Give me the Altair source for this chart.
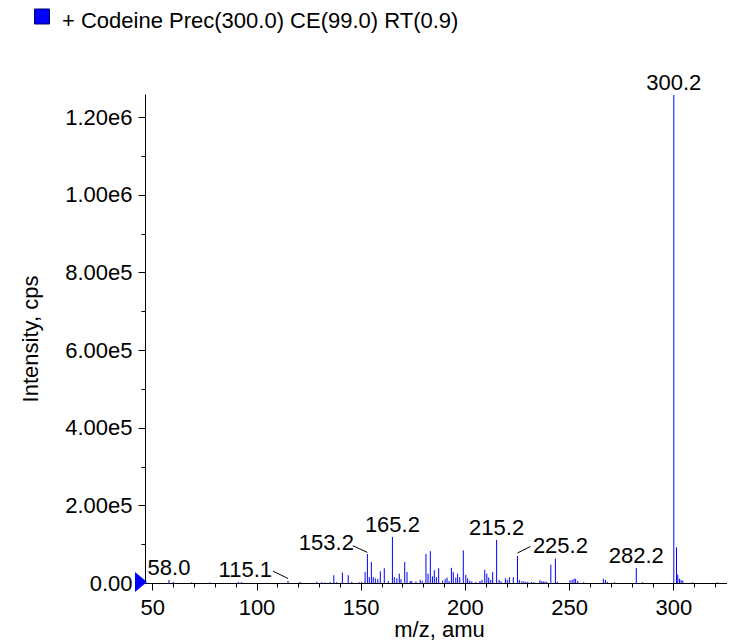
import altair as alt
import pandas as pd

# ---- spectrum data (m/z, intensity in cps) ----
series_name = "+ Codeine Prec(300.0) CE(99.0) RT(0.9)"

mz = [58.0, 60.1, 68.9, 77.7, 91.3, 92.9, 115.1, 120.9, 128.9, 131.3, 132.9, 135.3,
      137.1, 138.5, 141.2, 144.0, 145.7, 149.2, 150.5, 152.1, 153.2, 154.1, 155.1,
      156.0, 157.0, 158.2, 159.4, 161.3, 163.2, 165.2, 166.1, 167.3, 168.5, 169.3,
      171.1, 172.2, 173.7, 174.5, 176.5, 178.5, 179.5, 181.3, 182.3, 183.4, 184.4,
      185.3, 186.3, 187.4, 189.3, 190.5, 191.4, 192.4, 193.5, 194.4, 195.6, 196.5,
      197.5, 199.2, 200.4, 201.3, 202.3, 203.3, 205.2, 207.2, 208.2, 209.5, 210.5,
      211.4, 212.4, 213.3, 215.2, 216.4, 217.3, 219.4, 220.3, 221.3, 223.2, 225.2,
      226.1, 227.3, 228.3, 229.2, 230.2, 232.0, 233.1, 236.0, 236.8, 237.6, 238.4,
      239.2, 241.2, 243.4, 244.3, 250.4, 251.4, 252.3, 253.1, 254.1, 257.0, 266.4,
      267.4, 268.3, 271.8, 282.2, 285.3, 300.2, 301.5, 302.1, 302.9, 303.7, 304.5,
      309.3, 321.0]
intensity = [8000, 2500, 2000, 1500, 3000, 2500, 5500, 3000, 3000, 2000, 1500, 2500,
             20000, 2000, 27000, 20000, 3000, 2000, 2500, 28000, 74700, 15000, 54000,
             15000, 12000, 10000, 30000, 38000, 5000, 118500, 15000, 12000, 24000, 10000,
             54000, 28000, 5000, 5000, 4000, 8000, 6000, 75000, 24000, 82000, 17000,
             33000, 15000, 38000, 6000, 10000, 14000, 5000, 39000, 28000, 14000, 24000,
             15000, 84000, 21000, 12000, 6000, 4000, 2500, 5000, 8000, 34000, 24000,
             14000, 8000, 28000, 110800, 8000, 4000, 12000, 8000, 15000, 15000, 69600,
             8000, 5000, 4000, 3000, 3000, 2500, 2000, 7000, 4000, 4000, 3500,
             3000, 47000, 62700, 3000, 7000, 8000, 11000, 11000, 5000, 2000, 11000,
             8000, 3000, 2000, 38600, 2000, 1257000, 92000, 21500, 11000, 8000, 6000,
             2000, 2000]

labels_above = [58.0, 165.2, 215.2, 282.2, 300.2]
label_115 = [115.1]
label_153 = [153.2]
label_225 = [225.2]

x_major = [50, 100, 150, 200, 250, 300]
x_minor = [v for v in range(60, 330, 10) if v % 50 != 0]
y_major = [0, 200000, 400000, 600000, 800000, 1000000, 1200000]
y_minor = [100000, 300000, 500000, 700000, 900000, 1100000]

x_domain = [46.5, 328.6]
y_domain = [0, 1259300]

df = pd.DataFrame({"mz": mz, "intensity": intensity})
df["label"] = df["mz"].map(lambda v: f"{v:.1f}")


def sub(values):
    return df[df["mz"].isin(values)].reset_index(drop=True)


FONT = "Liberation Sans"
xs = alt.Scale(domain=x_domain, nice=False, zero=False)
ys = alt.Scale(domain=y_domain, nice=False)

bars = alt.Chart(df).mark_rule(color="#0000ff", strokeWidth=1).encode(
    x=alt.X("mz:Q", scale=xs, axis=alt.Axis(
        values=x_major, tickSize=7, labelPadding=7, title="m/z, amu",
        titleY=53.5, titleBaseline="alphabetic", labelFlush=False, orient="bottom")),
    y=alt.Y("intensity:Q", scale=ys, axis=alt.Axis(
        values=y_major, tickSize=7, labelPadding=6,
        labelExpr="datum.value == 0 ? '0.00' : replace(format(datum.value, '.2e'), '+', '')",
        title="Intensity, cps", titlePadding=22, orient="left")),
    y2=alt.Y2(datum=0),
)

above = alt.Chart(sub(labels_above)).mark_text(
    baseline="alphabetic", align="center", dy=-5, fontSize=22, font=FONT, color="black"
).encode(
    x=alt.X("mz:Q", scale=xs, axis=alt.Axis(
        values=x_minor, tickSize=4, labels=False, domain=False, title=None, orient="bottom")),
    y=alt.Y("intensity:Q", scale=ys, axis=alt.Axis(
        values=y_minor, tickSize=4, labels=False, domain=False, title=None, orient="left")),
    text="label:N",
)


def side_label(vals, align, dx, dy, off):
    d = sub(vals)
    t = alt.Chart(d).mark_text(
        baseline="middle", align=align, dx=dx, dy=dy, fontSize=22, font=FONT, color="black"
    ).encode(
        x=alt.X("mz:Q", scale=xs, axis=None),
        y=alt.Y("intensity:Q", scale=ys, axis=None),
        text="label:N",
    )
    r = alt.Chart(d).mark_rule(
        color="black", strokeWidth=1,
        xOffset=off[0], yOffset=off[1], x2Offset=off[2], y2Offset=off[3]
    ).encode(
        x=alt.X("mz:Q", scale=xs, axis=None),
        y=alt.Y("intensity:Q", scale=ys, axis=None),
        x2="mz:Q",
        y2="intensity:Q",
    )
    return [t, r]


l115 = side_label(label_115, "right", -16, -11, (0, -2.4, -15, -9.7))
l153 = side_label(label_153, "right", -13.5, -11, (0, -1.6, -14.6, -8.3))
l225 = side_label(label_225, "left", 15.4, -10, (0, -3, 13, -9.5))

marker = alt.Chart(pd.DataFrame({"series": [series_name]})).mark_point(
    shape="M-1,-1.1L0.2,-0.1L-1,0.9Z", size=400, filled=True, opacity=1
).encode(
    x=alt.value(0),
    y=alt.value(489),
    color=alt.Color("series:N", scale=alt.Scale(range=["#0000ff"]), legend=alt.Legend(
        orient="none", legendX=-114, legendY=-84, title=None,
        symbolType="M-1,-1.6H1V0.4H-1Z", symbolSize=225,
        symbolStrokeColor="#000060", symbolStrokeWidth=1, symbolFillColor="#0000ff",
        symbolOpacity=1, labelFontSize=22, labelFont=FONT, labelColor="black",
        labelOffset=9, padding=0, labelLimit=600)),
)

chart = alt.layer(bars, above, *l115, *l153, *l225, marker).resolve_axis(
    x="independent", y="independent"
).properties(
    width=588, height=489,
    padding={"left": 137, "top": 86, "right": -6, "bottom": 58},
    autosize="none",
).configure_axis(
    labelFont=FONT, labelFontSize=22, labelColor="black",
    titleFont=FONT, titleFontSize=22, titleColor="black", titleFontWeight="normal",
    domainColor="black", tickColor="black", grid=False,
).configure_view(stroke=None)

chart.save("out.html", embed_options={"renderer": "svg", "actions": False})
